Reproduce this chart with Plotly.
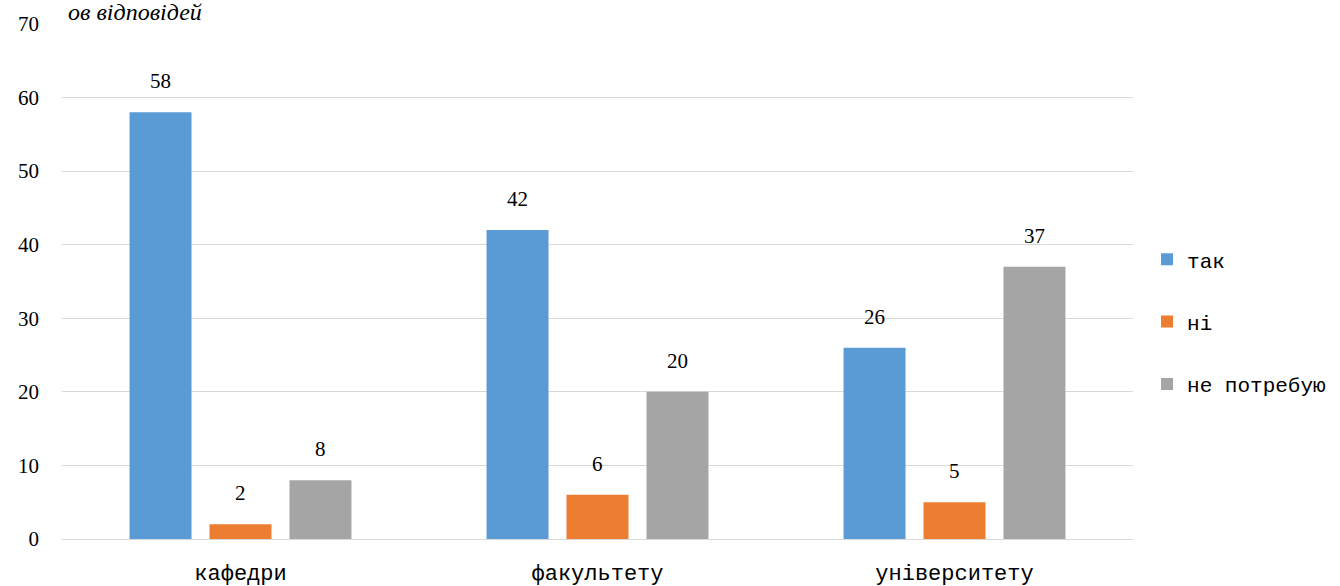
import plotly.graph_objects as go

categories = ["кафедри", "факультету", "університету"]
series_names = ["так", "ні", "не потребую"]
tak = [58, 42, 26]
ni = [2, 6, 5]
ne_potrebuyu = [8, 20, 37]
colors = ["#5B9BD5", "#ED7D31", "#A5A5A5"]
y_ticks = [0, 10, 20, 30, 40, 50, 60, 70]

BARGAP = 0.328
GROUPGAP = 0.225
SERIF = "Liberation Serif, Times New Roman, serif"
MONO = "Liberation Mono, Courier New, monospace"

fig = go.Figure()
all_series = [tak, ni, ne_potrebuyu]
for i, (name, vals) in enumerate(zip(series_names, all_series)):
    fig.add_trace(go.Bar(
        x=categories, y=vals, name=name,
        marker=dict(color=colors[i], line=dict(width=0)),
        legendgroup=name,
    ))

slot = (1 - BARGAP) / len(all_series)
for i, vals in enumerate(all_series):
    off = (i - (len(all_series) - 1) / 2) * slot
    for j, v in enumerate(vals):
        fig.add_annotation(x=j + off, y=v, xref="x", yref="y", text=str(v),
                           showarrow=False, yanchor="bottom", yshift=17,
                           font=dict(family=SERIF, size=21, color="#000"))

fig.update_layout(
    width=1340, height=586,
    margin=dict(l=62, r=207, t=24, b=47, autoexpand=False),
    plot_bgcolor="white", paper_bgcolor="white",
    barmode="group", bargap=BARGAP, bargroupgap=GROUPGAP,
    font=dict(family=SERIF, size=20, color="#000"),
    showlegend=True,
    legend=dict(xref="container", x=0.856, y=0.422, yanchor="middle", xanchor="left",
                font=dict(family=MONO, size=21, color="#000"),
                tracegroupgap=32, itemwidth=30),
    xaxis=dict(showline=False, ticks="", automargin=False,
               tickfont=dict(family=MONO, size=22, color="#000"),
               ticklabelstandoff=18),
    yaxis=dict(range=[0, 70], tickvals=y_ticks, showgrid=True, automargin=False,
               gridcolor="#d9d9d9", gridwidth=1.3, zeroline=True,
               zerolinecolor="#d9d9d9", zerolinewidth=1.3,
               ticks="", tickfont=dict(family=SERIF, size=21, color="#000"),
               ticklabelstandoff=22),
)
fig.add_annotation(text="<i>ов відповідей</i>", xref="paper", yref="paper",
                   x=0.004, y=1.0, xanchor="left", yanchor="bottom", yshift=-3,
                   showarrow=False,
                   font=dict(family=SERIF, size=24, color="#000"))
fig.write_html("out.html", config={"displayModeBar": False},
               post_script="document.body.style.margin='0';")
